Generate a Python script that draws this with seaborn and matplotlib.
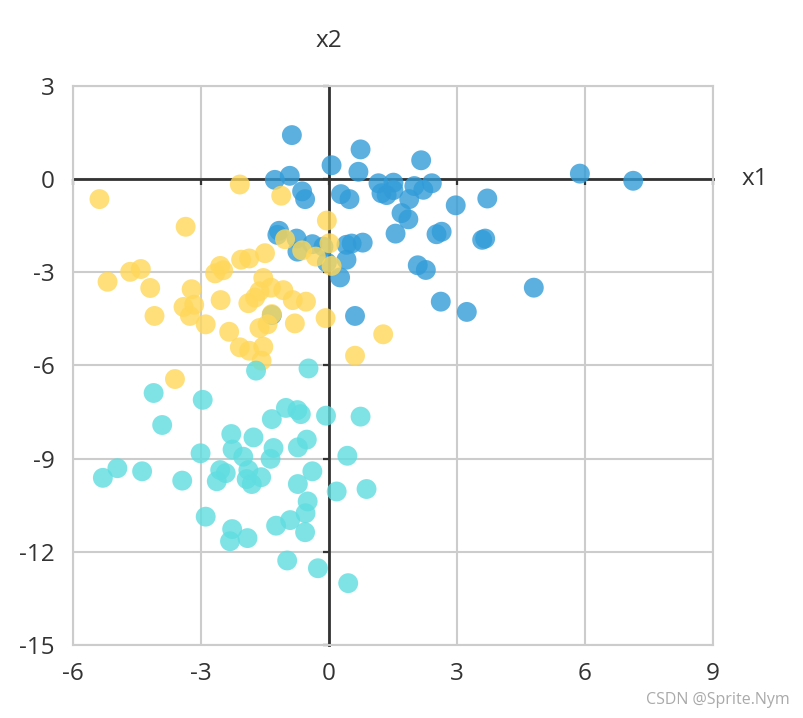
import matplotlib
matplotlib.use("Agg")
import matplotlib.pyplot as plt
import numpy as np
import pandas as pd
import seaborn as sns

# ---- data ----
blue_x1 = [0.06, 0.74, 0.69, 2.16, 1.16, 1.51, 1.23, 1.35, 1.51, 2.00,
           2.21, 2.41, 0.28, 0.48, 1.88, 1.70, 1.86, 2.97, 3.71, 1.56,
           2.52, 2.64, 3.59, 3.66, 5.88, 7.13, 0.53, 0.79, 0.41, 0.41,
           2.08, 2.27, 2.62, 0.26, 4.80, 3.23, 0.61, -0.87, -1.27, -0.92,
           -0.63, -0.56, -1.17, -1.21, -0.76, -0.74, -0.39, -0.13, -0.05, -1.34]
blue_x2 = [0.44, 0.95, 0.23, 0.60, -0.14, -0.12, -0.46, -0.52, -0.36, -0.23,
           -0.35, -0.14, -0.49, -0.65, -0.65, -1.10, -1.30, -0.85, -0.63, -1.76,
           -1.78, -1.70, -1.96, -1.92, 0.17, -0.06, -2.08, -2.05, -2.12, -2.60,
           -2.78, -2.93, -3.95, -3.17, -3.50, -4.28, -4.41, 1.41, -0.03, 0.10,
           -0.40, -0.65, -1.67, -1.80, -1.92, -2.34, -2.10, -2.18, -2.69, -4.38]

yellow_x1 = [-5.38, -3.36, -2.09, -1.12, -0.05, -1.03, -0.63, -0.31, 0.01, 0.06,
             -1.50, -1.87, -2.06, -2.55, -2.48, -2.67, -4.41, -4.66, -5.19, -1.54,
             -4.19, -4.09, -3.22, -3.41, -3.16, -3.26, -2.89, -2.54, -2.34, -2.09,
             -1.87, -1.54, -1.58, -1.89, -1.73, -1.63, -1.36, -1.07, -0.85, -0.54,
             -1.63, -1.44, -1.34, -0.80, -0.08, 0.61, -3.61, 1.27]
yellow_x2 = [-0.65, -1.54, -0.18, -0.54, -1.34, -1.94, -2.30, -2.50, -2.07, -2.80,
             -2.39, -2.56, -2.60, -2.80, -2.94, -3.04, -2.90, -2.99, -3.31, -3.19,
             -3.51, -4.41, -3.55, -4.12, -4.05, -4.41, -4.68, -3.90, -4.92, -5.42,
             -5.53, -5.40, -5.85, -4.00, -3.82, -3.62, -3.50, -3.58, -3.90, -3.95,
             -4.80, -4.68, -4.35, -4.65, -4.48, -5.69, -6.44, -5.00]

cyan_x1 = [-4.11, -2.96, -3.91, -1.71, -0.48, -1.01, -0.74, -0.66, -1.34, -0.07,
           0.74, -2.29, -1.77, -0.52, -0.73, -1.30, -2.26, -3.01, -2.01, -1.37,
           0.43, -4.96, -5.30, -4.38, -3.44, -2.55, -2.42, -2.63, -1.89, -1.93,
           -1.81, -1.59, -0.39, -0.73, 0.18, 0.88, -0.50, -0.55, -0.91, -1.24,
           -0.56, -2.89, -2.27, -2.32, -1.91, -0.98, -0.26, 0.45]
cyan_x2 = [-6.89, -7.11, -7.92, -6.17, -6.10, -7.37, -7.44, -7.57, -7.73, -7.62,
           -7.65, -8.21, -8.32, -8.39, -8.64, -8.66, -8.71, -8.83, -8.94, -9.01,
           -8.91, -9.31, -9.62, -9.41, -9.71, -9.37, -9.47, -9.73, -9.37, -9.66,
           -9.82, -9.60, -9.41, -9.82, -10.06, -9.98, -10.38, -10.76, -10.98, -11.16,
           -11.37, -10.87, -11.27, -11.66, -11.56, -12.28, -12.53, -13.01]

x_ticks = [-6, -3, 0, 3, 6, 9]
y_ticks = [-15, -12, -9, -6, -3, 0, 3]
x_tick_labels = ["-6", "-3", "0", "3", "6", "9"]
y_tick_labels = ["-15", "-12", "-9", "-6", "-3", "0", "3"]

df = pd.concat([
    pd.DataFrame({"x1": blue_x1, "x2": blue_x2, "group": "A"}),
    pd.DataFrame({"x1": yellow_x1, "x2": yellow_x2, "group": "B"}),
    pd.DataFrame({"x1": cyan_x1, "x2": cyan_x2, "group": "C"}),
], ignore_index=True)
palette = {"A": "#329cd8", "B": "#ffd759", "C": "#5fdde0"}

sns.set_theme(style="white")
plt.rcParams["font.family"] = ["Open Sans", "DejaVu Sans"]

FS = 17.5
fig = plt.figure(figsize=(8.04, 7.18), dpi=100)
ax = fig.add_axes([73 / 804, 1 - 645 / 718, 640 / 804, (645 - 85.7) / 718])

sns.scatterplot(data=df, x="x1", y="x2", hue="group", palette=palette,
                s=205, alpha=0.8, linewidth=0, legend=False, ax=ax, zorder=3)

ax.set_xlim(-6, 9)
ax.set_ylim(-15, 3)
ax.set_xticks(x_ticks, x_tick_labels)
ax.set_yticks(y_ticks, y_tick_labels)
ax.set_xlabel("")
ax.set_ylabel("")
ax.grid(True, color="#cccccc", linewidth=1.5)
ax.set_axisbelow(True)
for sp in ax.spines.values():
    sp.set_color("#cccccc")
    sp.set_linewidth(1.5)
ax.tick_params(axis="x", length=0, labelsize=FS, labelcolor="#333333", pad=12)
ax.tick_params(axis="y", length=0, labelsize=FS, labelcolor="#333333", pad=13)
for lab in ax.get_yticklabels():
    lab.set_verticalalignment("center_baseline")

# zero axes with tick marks
secx = ax.secondary_xaxis(15 / 18)
secx.set_alignment("bottom")
secx.set_xticks(x_ticks)
secx.tick_params(axis="x", length=4.5, width=1.6, color="#333333",
                 labelbottom=False, labeltop=False)
secx.spines["bottom"].set_color("#333333")
secx.spines["bottom"].set_linewidth(2)
secx.set_zorder(1)

secy = ax.secondary_yaxis(6 / 15)
secy.set_alignment("left")
secy.set_yticks(y_ticks)
secy.tick_params(axis="y", length=4.5, width=1.6, color="#333333",
                 labelleft=False, labelright=False)
secy.spines["left"].set_color("#333333")
secy.spines["left"].set_linewidth(2)
secy.set_zorder(1)

ax.annotate("x2", xy=(0, 3), xytext=(0, 32), textcoords="offset points",
            ha="center", va="center", fontsize=FS, color="#333333")
ax.annotate("x1", xy=(9, 0), xytext=(30, 0), textcoords="offset points",
            ha="center", va="center", fontsize=FS, color="#333333")

fig.text(790 / 804, 1 - 700 / 718, "CSDN @Sprite.Nym", ha="right", va="center",
         fontsize=11.5, color="#aaaaaa")

fig.savefig("out.png", dpi=100)
